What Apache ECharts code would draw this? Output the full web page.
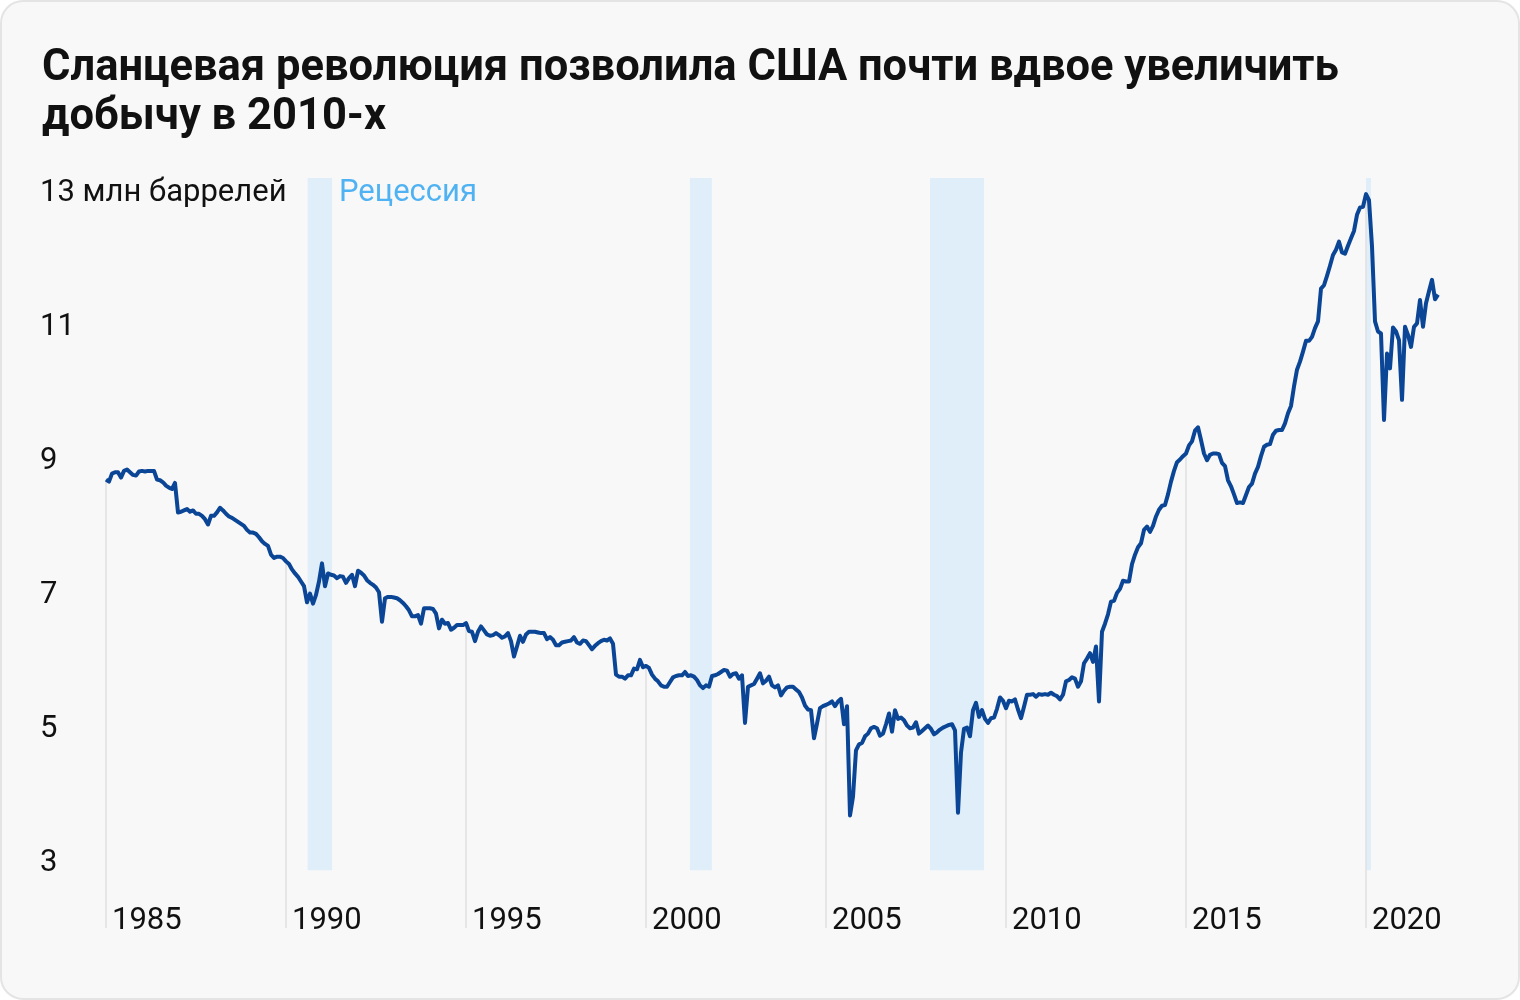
<!DOCTYPE html>
<html><head><meta charset="utf-8">
<script src="https://cdn.jsdelivr.net/npm/echarts@6/dist/echarts.min.js"></script>
<style>html,body{margin:0;padding:0;background:#fff}#c{width:1520px;height:1000px}</style>
</head><body><div id="c"></div>
<script>
// Monthly US crude oil production, million barrels per day, from Jan 1985
const startYear = 1985;
const prod1985_1989 = [
  8.67, 8.64, 8.76, 8.78, 8.78, 8.70, 8.80, 8.82, 8.78, 8.74, 8.73, 8.79,
  8.80, 8.79, 8.80, 8.80, 8.80, 8.67, 8.66, 8.63, 8.58, 8.55, 8.53, 8.62,
  8.18, 8.19, 8.21, 8.23, 8.19, 8.21, 8.16, 8.16, 8.13, 8.08, 8.00, 8.13,
  8.13, 8.18, 8.25, 8.21, 8.16, 8.12, 8.10, 8.07, 8.04, 8.01, 7.98, 7.92,
  7.88, 7.88, 7.86, 7.81, 7.75, 7.71, 7.68, 7.55, 7.50, 7.52, 7.52, 7.50
];
const prod1990_1994 = [
  7.45, 7.41, 7.33, 7.27, 7.22, 7.15, 7.08, 6.84, 6.97, 6.82, 6.95, 7.15,
  7.42, 7.08, 7.27, 7.25, 7.24, 7.20, 7.23, 7.22, 7.13, 7.20, 7.25, 7.08,
  7.31, 7.28, 7.24, 7.17, 7.13, 7.10, 7.06, 6.99, 6.55, 6.90, 6.92, 6.92,
  6.91, 6.90, 6.87, 6.83, 6.78, 6.72, 6.63, 6.63, 6.65, 6.52, 6.75, 6.75,
  6.75, 6.74, 6.67, 6.45, 6.58, 6.52, 6.53, 6.43, 6.46, 6.50, 6.50, 6.50
];
const prod1995_1999 = [
  6.53, 6.41, 6.40, 6.26, 6.40, 6.48, 6.42, 6.36, 6.34, 6.35, 6.38, 6.35,
  6.31, 6.33, 6.38, 6.26, 6.03, 6.18, 6.34, 6.25, 6.36, 6.40, 6.40, 6.40,
  6.39, 6.38, 6.38, 6.29, 6.32, 6.28, 6.20, 6.20, 6.24, 6.25, 6.26, 6.27,
  6.32, 6.24, 6.22, 6.27, 6.26, 6.20, 6.14, 6.19, 6.23, 6.26, 6.28, 6.27,
  6.30, 6.22, 5.76, 5.73, 5.73, 5.70, 5.75, 5.75, 5.85, 5.84, 5.98, 5.87
];
const prod2000_2004 = [
  5.89, 5.86, 5.76, 5.70, 5.66, 5.60, 5.58, 5.58, 5.65, 5.72, 5.74, 5.75,
  5.75, 5.80, 5.74, 5.75, 5.73, 5.68, 5.60, 5.56, 5.60, 5.58, 5.74, 5.75,
  5.77, 5.80, 5.83, 5.82, 5.73, 5.77, 5.78, 5.70, 5.75, 5.04, 5.58, 5.60,
  5.62, 5.70, 5.78, 5.63, 5.67, 5.73, 5.60, 5.57, 5.60, 5.45, 5.52, 5.57,
  5.58, 5.58, 5.54, 5.50, 5.42, 5.30, 5.24, 5.23, 4.81, 5.03, 5.26, 5.29
];
const prod2005_2009 = [
  5.31, 5.33, 5.36, 5.29, 5.36, 5.40, 5.02, 5.29, 3.66, 3.94, 4.63, 4.72,
  4.74, 4.84, 4.88, 4.96, 4.98, 4.96, 4.85, 4.88, 5.02, 5.18, 4.91, 5.23,
  5.10, 5.12, 5.08, 5.00, 4.96, 4.97, 5.05, 4.88, 4.92, 4.96, 5.00, 4.95,
  4.87, 4.90, 4.94, 4.97, 4.99, 5.01, 5.02, 4.93, 3.70, 4.60, 4.95, 4.97,
  4.84, 5.23, 5.34, 5.13, 5.23, 5.10, 5.04, 5.11, 5.12, 5.25, 5.42, 5.37
];
const prod2010_2014 = [
  5.26, 5.37, 5.36, 5.39, 5.24, 5.11, 5.28, 5.46, 5.46, 5.47, 5.43, 5.47,
  5.46, 5.47, 5.46, 5.49, 5.46, 5.44, 5.39, 5.46, 5.66, 5.68, 5.72, 5.70,
  5.58, 5.66, 5.93, 6.00, 6.08, 5.95, 6.18, 5.36, 6.40, 6.52, 6.66, 6.85,
  6.86, 6.98, 7.04, 7.16, 7.15, 7.15, 7.41, 7.55, 7.66, 7.72, 7.92, 7.97,
  7.89, 7.98, 8.12, 8.22, 8.28, 8.29, 8.45, 8.64, 8.80, 8.93, 8.97, 9.02
];
const prod2015_2019 = [
  9.06, 9.18, 9.24, 9.40, 9.45, 9.26, 9.06, 8.96, 9.04, 9.06, 9.06, 9.05,
  8.92, 8.87, 8.66, 8.57, 8.45, 8.32, 8.33, 8.32, 8.44, 8.56, 8.61, 8.76,
  8.86, 9.02, 9.16, 9.19, 9.20, 9.34, 9.40, 9.41, 9.41, 9.51, 9.66, 9.77,
  10.06, 10.31, 10.43, 10.58, 10.74, 10.74, 10.80, 10.93, 11.03, 11.52, 11.57, 11.71,
  11.86, 12.02, 12.10, 12.22, 12.06, 12.04, 12.16, 12.27, 12.38, 12.62, 12.73, 12.74
];
const prod2020_2022 = [
  12.93, 12.84, 12.15, 11.03, 10.88, 10.85, 9.56, 10.55, 10.33, 10.94, 10.88, 10.75,
  9.86, 10.95, 10.83, 10.65, 10.95, 11.00, 11.35, 10.95, 11.30, 11.48, 11.65, 11.36,
  11.43
];

const tickYears = [1985, 1990, 1995, 2000, 2005, 2010, 2015, 2020];
const yTickValues = [3, 5, 7, 9, 11, 13];
const yUnitLabel = '13 млн баррелей';
const recessionStart = [1990.6, 2001.22, 2007.89, 2020.0];
const recessionEnd = [1991.28, 2001.83, 2009.39, 2020.14];
const recessionLabel = 'Рецессия';
const titleText = 'Сланцевая революция позволила США почти вдвое увеличить\nдобычу в 2010-х';

const xMin = 1985, xMax = 2022;
const yMin = 1.98, yMax = 13.17, bandBottom = 2.84;

const production = [].concat(prod1985_1989, prod1990_1994, prod1995_1999,
  prod2000_2004, prod2005_2009, prod2010_2014, prod2015_2019, prod2020_2022);
const lineData = production.map((v, i) => [startYear + i / 12, v]);

const gridLineData = tickYears.map(y => {
  const v = production[(y - startYear) * 12];
  return [{ coord: [y, v] }, { coord: [y, yMin] }];
});
const bandData = recessionStart.map((s, i) => [
  { xAxis: s, yAxis: bandBottom },
  { xAxis: recessionEnd[i], yAxis: yMax }
]);

const FONT = 'Roboto, "Noto Sans", sans-serif';
const chart = echarts.init(document.getElementById('c'), null, { renderer: 'canvas' });
chart.setOption({
  animation: false,
  backgroundColor: '#ffffff',
  textStyle: { fontFamily: FONT },
  title: {
    text: titleText,
    left: 37, top: 40,
    textStyle: { fontFamily: FONT, fontSize: 43.5, fontWeight: 700, color: '#111111', lineHeight: 49 }
  },
  graphic: [
    {
      type: 'rect', z: -100, silent: true,
      shape: { x: 1, y: 1, width: 1518, height: 998, r: 22 },
      style: { fill: '#f8f8f8', stroke: '#e4e4e4', lineWidth: 2 }
    },
    {
      type: 'text', left: 339, top: 178, silent: true,
      style: { text: recessionLabel, fill: '#4fb2f2', font: '31px ' + FONT }
    }
  ],
  grid: { left: 106, top: 178, width: 1332, height: 750, containLabel: false },
  xAxis: {
    type: 'value', min: xMin, max: xMax, interval: 5,
    axisLine: { show: false }, axisTick: { show: false }, splitLine: { show: false },
    axisLabel: {
      customValues: tickYears,
      inside: true, margin: 7, verticalAlign: 'middle', align: 'left',
      padding: [0, 0, 0, 6],
      fontSize: 31, color: '#111111', fontFamily: FONT,
      formatter: v => String(v)
    }
  },
  yAxis: {
    type: 'value', min: yMin, max: yMax,
    axisLine: { show: false }, axisTick: { show: false }, splitLine: { show: false },
    axisLabel: {
      customValues: yTickValues,
      align: 'left', margin: 66,
      formatter: v => '{v|' + (v === 13 ? yUnitLabel : String(v)) + '}',
      rich: {
        v: { fontSize: 31, color: '#111111', fontFamily: FONT, padding: [7, 0, 0, 0] }
      }
    }
  },
  series: [
    {
      type: 'line', name: 'recession', data: [], silent: true, z: 1,
      markArea: {
        silent: true,
        itemStyle: { color: '#dfeef9' },
        label: { show: false },
        data: bandData
      }
    },
    {
      type: 'line', name: 'gridlines', data: [], silent: true, z: 2,
      markLine: {
        silent: true, symbol: ['none', 'none'],
        label: { show: false },
        lineStyle: { color: '#e0e0e0', width: 1.5, type: 'solid' },
        data: gridLineData
      }
    },
    {
      type: 'line', name: 'production', data: lineData, z: 5,
      showSymbol: false, smooth: false,
      lineStyle: { color: '#0a4596', width: 4, join: 'round' }
    }
  ]
});
</script>
</body></html>
